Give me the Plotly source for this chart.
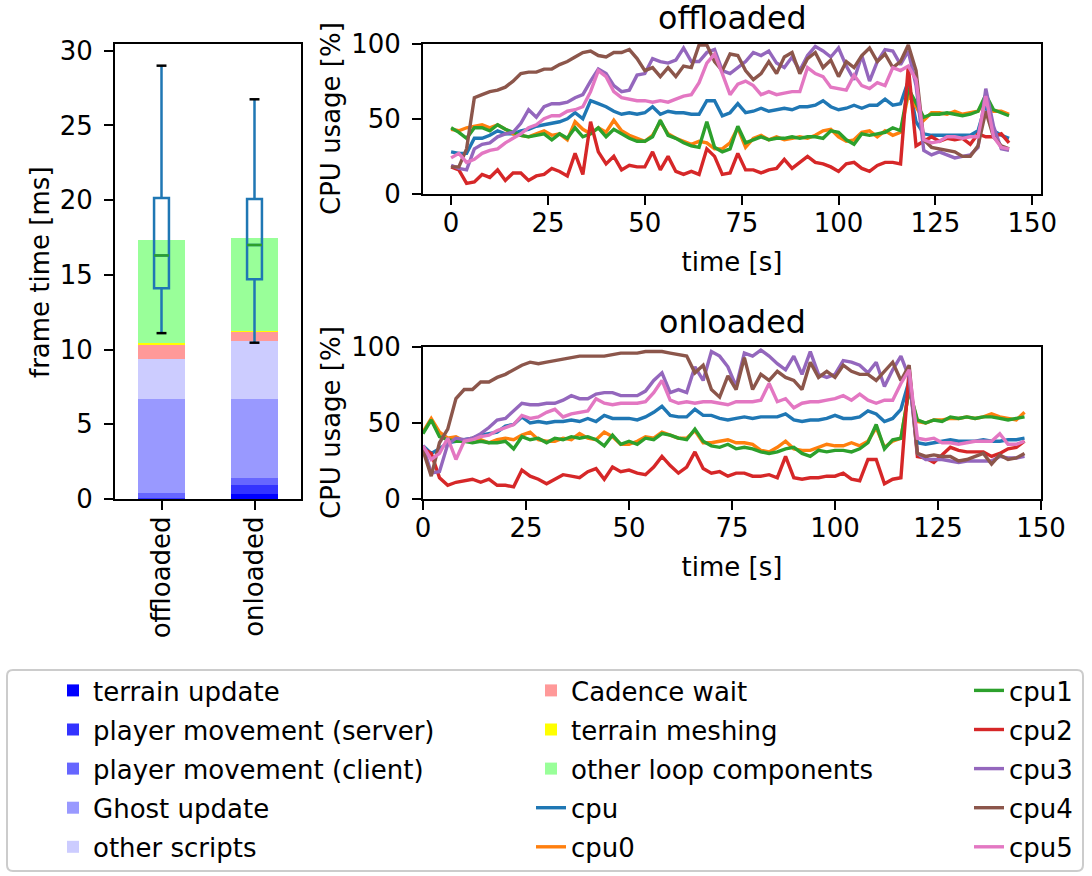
import plotly.graph_objects as go

W, H = 1092, 876

# ---------------- data: frame time breakdown (left panel) ----------------
categories = ["offloaded", "onloaded"]
terrain_update = [0.02, 0.35]
player_movement_server = [0.03, 0.60]
player_movement_client = [0.35, 0.45]
ghost_update = [6.30, 5.30]
other_scripts = [2.67, 3.87]
cadence_wait = [0.96, 0.63]
terrain_meshing = [0.12, 0.04]
other_loop_components = [6.88, 6.23]

frame_q1 = [14.1, 14.7]
frame_median = [16.3, 17.0]
frame_q3 = [20.15, 20.08]
frame_low = [11.1, 10.46]
frame_high = [29.0, 26.75]

# ---------------- data: CPU usage, offloaded ----------------
time_offloaded = list(range(0, 145, 2))
cpu_off = [28,27,27,37,37,39,42,40,40,42, 43,45,46,47,48,50,54,50,62,60, 58,55,53,54,53,54,58,53,55,54, 54,53,53,62,62,52,54,60,
           54,55,57,55,56,57,56,58,58,59, 62,58,56,57,59,57,59,59,63,59, 60,75,48,40,39,39,39,39,39,39, 42,60,42,39,37]
cpu0_off = [43,42,44,45,46,44,46,43,40,39, 38,40,42,39,40,36,48,43,40,44, 41,49,42,39,37,35,39,48,40,37, 35,33,35,34,30,30,34,44,
            31,37,39,36,38,36,37,38,37,39, 42,43,38,35,36,41,42,38,42,39, 41,66,58,49,54,54,53,55,53,54, 55,64,55,55,53]
cpu1_off = [44,41,37,44,44,42,46,43,41,39, 38,39,40,36,40,37,44,38,40,44, 38,43,40,37,35,35,38,49,39,37, 34,32,31,48,31,28,30,45,
            34,36,38,36,37,37,38,37,38,38, 37,42,41,36,33,40,39,40,41,44, 42,70,60,51,53,53,54,53,52,53, 55,66,56,54,52]
cpu2_off = [18,16,7,8,13,11,16,9,14,14, 9,12,13,17,15,12,27,13,48,28, 20,25,16,19,18,18,28,16,25,15, 13,15,13,30,25,13,14,27,
            16,16,14,16,17,23,17,21,25,21, 20,18,15,20,21,17,15,19,21,21, 20,85,32,35,38,35,37,36,37,33, 40,38,38,40,34]
cpu3_off = [19,17,16,30,33,34,38,40,41,47, 56,51,58,60,60,61,64,66,75,83, 80,72,68,69,79,80,90,88,87,89, 97,88,88,94,96,82,80,84,
            88,94,92,95,87,84,91,82,92,98, 95,91,97,85,76,92,75,88,96,95, 86,95,72,29,26,28,26,24,25,26, 31,70,45,30,29]
cpu4_off = [18,18,30,64,66,68,69,71,75,80, 81,81,83,83,86,88,91,94,95,92, 91,94,94,96,90,82,84,78,84,78, 85,84,99,99,88,82,93,92,
            82,76,80,88,80,91,94,80,90,94, 84,89,78,88,84,92,97,88,93,84, 88,99,82,36,31,30,29,28,25,25, 32,55,38,32,30]
cpu5_off = [24,27,21,23,27,29,30,34,37,40, 44,46,50,52,52,55,56,58,68,82, 78,68,64,63,62,62,61,62,61,63, 65,66,74,87,93,80,66,73,
            75,72,66,68,66,67,68,68,84,80, 78,71,70,69,79,72,70,74,72,84, 82,85,76,36,34,35,38,38,37,38, 38,65,38,31,30]

# ---------------- data: CPU usage, onloaded ----------------
time_onloaded = list(range(0, 147, 2))
cpu_on = [35,30,33,37,38,39,40,42,43,44, 48,49,54,50,51,50,51,51,52,51, 53,51,55,53,53,53,52,54,57,61, 55,54,54,59,55,55,53,52,
          53,54,53,54,54,54,56,52,51,52, 52,53,55,53,53,54,58,56,51,53, 59,78,37,36,37,38,39,38,38,38, 39,38,38,39,39,40]
cpu0_on = [44,53,44,40,41,38,40,39,37,39, 40,39,42,44,39,38,38,40,39,43, 40,39,44,41,36,36,38,41,40,44, 42,40,40,45,37,37,38,39,
           37,37,36,32,31,34,38,33,32,32, 34,36,35,35,37,35,38,47,34,38, 40,72,51,50,52,52,53,53,54,53, 54,56,54,53,52,57]
cpu1_on = [43,52,41,39,38,38,37,38,37,37, 38,33,41,39,40,37,40,39,41,40, 41,39,35,42,36,38,36,40,39,43, 42,40,39,46,38,35,34,36,
           33,34,33,31,30,31,33,34,30,28, 32,31,32,32,31,33,37,49,33,39, 40,72,52,50,52,51,54,53,54,53, 54,54,53,52,53,54]
cpu2_on = [33,30,14,9,11,12,13,11,13,9, 9,8,19,15,13,10,13,16,15,14, 18,20,13,21,18,19,17,16,21,28, 22,17,21,31,20,17,18,15,
           17,17,15,15,16,14,28,14,13,14, 14,15,15,17,13,12,26,26,10,13, 14,85,28,27,24,29,34,32,31,31, 31,28,30,33,34,38]
cpu3_on = [35,17,18,36,40,39,40,43,47,52, 53,58,63,62,62,63,63,65,68,66, 66,69,70,70,68,68,68,71,78,83, 70,72,70,87,78,97,94,87,
           74,96,94,98,94,89,85,94,82,97, 82,80,82,91,90,88,83,90,74,85, 94,80,30,26,26,26,25,24,25,25, 25,25,28,27,27,28]
cpu4_on = [32,15,37,46,66,72,72,77,77,80, 82,85,88,90,89,90,91,92,93,94, 94,94,94,95,96,96,96,97,97,97, 96,95,94,83,88,72,67,81,
           72,93,72,82,78,84,80,78,72,90, 80,84,80,88,84,82,82,78,84,90, 78,88,30,28,29,28,28,25,26,28, 30,23,29,26,27,30]
cpu5_on = [35,26,30,40,26,38,39,41,42,45, 47,49,55,53,54,57,59,54,56,57, 58,66,63,62,63,63,63,64,70,78, 65,63,64,63,64,64,63,62,
           64,64,64,65,76,64,66,60,63,64, 64,65,66,68,65,69,65,63,65,65, 76,85,40,39,40,37,37,36,37,38, 38,38,43,36,36,38]

cpu_names = ["cpu", "cpu0", "cpu1", "cpu2", "cpu3", "cpu4", "cpu5"]
cpu_colors = ["#1f77b4", "#ff7f0e", "#2ca02c", "#d62728", "#9467bd", "#8c564b", "#e377c2"]
off_series = [cpu_off, cpu0_off, cpu1_off, cpu2_off, cpu3_off, cpu4_off, cpu5_off]
on_series = [cpu_on, cpu0_on, cpu1_on, cpu2_on, cpu3_on, cpu4_on, cpu5_on]

bar_names = ["terrain update", "player movement (server)", "player movement (client)",
             "Ghost update", "other scripts", "Cadence wait", "terrain meshing",
             "other loop components"]
bar_values = [terrain_update, player_movement_server, player_movement_client, ghost_update,
              other_scripts, cadence_wait, terrain_meshing, other_loop_components]
bar_colors = ["#0000ff", "#3333ff", "#6666ff", "#9999ff", "#ccccff", "#ff9999", "#ffff00", "#99ff99"]
bar_legend = ["legend", "legend", "legend", "legend", "legend", "legend2", "legend2", "legend2"]

FONT = "DejaVu Sans"
FS = 26


def xf(px):
    return px / W


def yf(py):
    return 1 - py / H


fig = go.Figure()
xpos = list(range(len(categories)))

for name, vals, col, lg in zip(bar_names, bar_values, bar_colors, bar_legend):
    fig.add_trace(go.Bar(x=xpos, y=vals, name=name, marker=dict(color=col, line=dict(width=0)),
                         width=0.5, xaxis="x", yaxis="y", legend=lg, legendgroup=name,
                         hoverinfo="skip"))

BOX_W = 0.16
fig.add_trace(go.Box(x=xpos, q1=frame_q1, median=frame_median, q3=frame_q3,
                     lowerfence=frame_low, upperfence=frame_high, width=BOX_W,
                     line=dict(color="#1f77b4", width=2.5), fillcolor="rgba(0,0,0,0)",
                     whiskerwidth=0, boxpoints=False, showlegend=False,
                     xaxis="x", yaxis="y", hoverinfo="skip"))

med_x, med_y, cap_x, cap_y = [], [], [], []
for i in xpos:
    med_x += [i - BOX_W / 2, i + BOX_W / 2, None]
    med_y += [frame_median[i], frame_median[i], None]
    for v in (frame_low[i], frame_high[i]):
        cap_x += [i - BOX_W / 3, i + BOX_W / 3, None]
        cap_y += [v, v, None]
fig.add_trace(go.Scatter(x=med_x, y=med_y, mode="lines", line=dict(color="#2ca02c", width=2.5),
                         showlegend=False, xaxis="x", yaxis="y", hoverinfo="skip"))
fig.add_trace(go.Scatter(x=cap_x, y=cap_y, mode="lines", line=dict(color="black", width=2.5),
                         showlegend=False, xaxis="x", yaxis="y", hoverinfo="skip"))

LW = 3.4
for k, (name, col) in enumerate(zip(cpu_names, cpu_colors)):
    lg = "legend2" if k < 2 else "legend3"
    fig.add_trace(go.Scatter(x=time_offloaded, y=off_series[k], mode="lines", name=name,
                             line=dict(color=col, width=LW), xaxis="x2", yaxis="y2",
                             legend=lg, legendgroup=name, hoverinfo="skip"))
for k, (name, col) in enumerate(zip(cpu_names, cpu_colors)):
    fig.add_trace(go.Scatter(x=time_onloaded, y=on_series[k], mode="lines", name=name,
                             line=dict(color=col, width=LW), xaxis="x3", yaxis="y3",
                             showlegend=False, legendgroup=name, hoverinfo="skip"))

axis_style = dict(showline=True, linecolor="black", linewidth=2, mirror=True,
                  ticks="outside", ticklen=9, tickwidth=2, tickcolor="black",
                  showgrid=False, zeroline=False, automargin=False,
                  tickfont=dict(family=FONT, size=FS, color="black"))
x_style = dict(axis_style, ticklabelstandoff=-4)
y_style = dict(axis_style, ticklabelstandoff=6)
xtitle = dict(text="time [s]", standoff=16, font=dict(family=FONT, size=FS, color="black"))


def legend_at(px, py):
    return dict(x=px / W, y=1 - py / H, xref="container", yref="container",
                xanchor="left", yanchor="top", bgcolor="rgba(0,0,0,0)", borderwidth=0,
                font=dict(family=FONT, size=FS, color="black"),
                traceorder="grouped", tracegroupgap=2.3)


fig.update_layout(
    template="none",
    width=W, height=H, margin=dict(l=0, r=0, t=0, b=0, autoexpand=False),
    paper_bgcolor="white", plot_bgcolor="white",
    font=dict(family=FONT, size=FS, color="black"),
    barmode="stack", bargap=0,
    xaxis=dict(domain=[xf(115), xf(301)], range=[-0.5, 1.5], tickvals=xpos, ticktext=categories,
               tickangle=-90, anchor="y", **x_style),
    yaxis=dict(domain=[yf(499), yf(44)], range=[0, 30.45], tickvals=[0, 5, 10, 15, 20, 25, 30],
               anchor="x", **y_style),
    xaxis2=dict(domain=[xf(423), xf(1041)], range=[-7.25, 152.25], tickvals=[0, 25, 50, 75, 100, 125, 150],
                anchor="y2", title=xtitle, **x_style),
    yaxis2=dict(domain=[yf(194), yf(43.5)], range=[0, 100], tickvals=[0, 50, 100], anchor="x2",
                **y_style),
    xaxis3=dict(domain=[xf(423), xf(1041)], range=[0, 150], tickvals=[0, 25, 50, 75, 100, 125, 150],
                anchor="y3", title=xtitle, **x_style),
    yaxis3=dict(domain=[yf(499), yf(347)], range=[0, 100], tickvals=[0, 50, 100], anchor="x3",
                **y_style),
    legend=legend_at(53, 667),
    legend2=legend_at(531, 667),
    legend3=legend_at(969, 667),
    showlegend=True,
)

# y-axis titles
for txt, px, py in (("frame time [ms]", 40, 272), ("CPU usage [%]", 331, 119),
                    ("CPU usage [%]", 331, 423)):
    fig.add_annotation(text=txt, xref="paper", yref="paper", x=xf(px), y=yf(py),
                       xanchor="center", yanchor="middle", textangle=-90, showarrow=False,
                       font=dict(family=FONT, size=FS, color="black"))

# subplot titles
for txt, ybot in (("offloaded", 38), ("onloaded", 342)):
    fig.add_annotation(text=txt, xref="paper", yref="paper", x=xf(732), y=yf(ybot),
                       xanchor="center", yanchor="bottom", showarrow=False,
                       font=dict(family=FONT, size=31.7, color="black"))

# legend frame (rounded)
x0, x1, yt, yb = xf(7), xf(1083), yf(670), yf(871)
rx, ry = 6 / W, 6 / H
frame_path = (f"M {x0+rx},{yt} L {x1-rx},{yt} Q {x1},{yt} {x1},{yt-ry} L {x1},{yb+ry} "
              f"Q {x1},{yb} {x1-rx},{yb} L {x0+rx},{yb} Q {x0},{yb} {x0},{yb+ry} "
              f"L {x0},{yt-ry} Q {x0},{yt} {x0+rx},{yt} Z")
fig.add_shape(type="path", path=frame_path, xref="paper", yref="paper",
              line=dict(color="#cccccc", width=2), fillcolor="rgba(0,0,0,0)", layer="below")

fig.write_html("out.html")
